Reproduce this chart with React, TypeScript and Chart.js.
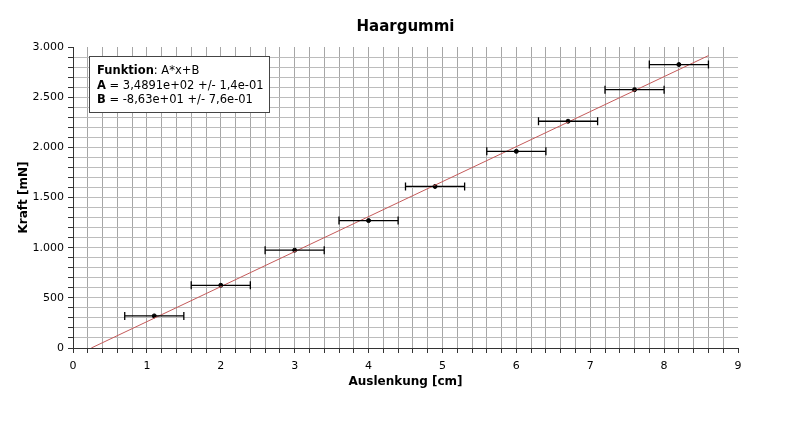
import { useEffect, useRef } from 'react'
import { Chart, registerables } from 'chart.js'
Chart.register(...registerables)

// measured points (Auslenkung in cm, Kraft in mN)
const xValues = [1.1, 2.0, 3.0, 4.0, 4.9, 6.0, 6.7, 7.6, 8.2]
const yValues = [320, 625, 975, 1270, 1610, 1960, 2260, 2575, 2825]
const xErrors = [0.4, 0.4, 0.4, 0.4, 0.4, 0.4, 0.4, 0.4, 0.4]
// fit y = A*x + B
const fitA = 348.91
const fitB = -86.3
const fitEnd = 8.6
const fitLines = [
  [['Funktion', true], [': A*x+B', false]],
  [['A', true], [' = 3,4891e+02 +/- 1,4e-01', false]],
  [['B', true], [' = -8,63e+01 +/- 7,6e-01', false]],
]

const FONT = '"DejaVu Sans", sans-serif'

const isMult = (v: number, m: number) => Math.abs(v / m - Math.round(v / m)) < 1e-6
const fmtThousands = (v: number) => {
  const n = Math.round(v)
  if (n < 1000) return String(n)
  return Math.floor(n / 1000) + '.' + String(n % 1000).padStart(3, '0')
}

const extras = {
  id: 'extras',
  afterDatasetsDraw(chart: any) {
    const { ctx, scales: { x, y }, chartArea } = chart
    ctx.save()
    // error bars
    ctx.strokeStyle = '#000'
    ctx.lineWidth = 1.3
    xValues.forEach((xv, i) => {
      const py = y.getPixelForValue(yValues[i])
      const x0 = x.getPixelForValue(xv - xErrors[i])
      const x1 = x.getPixelForValue(xv + xErrors[i])
      ctx.beginPath()
      ctx.moveTo(x0, py); ctx.lineTo(x1, py)
      ctx.moveTo(x0, py - 4); ctx.lineTo(x0, py + 4)
      ctx.moveTo(x1, py - 4); ctx.lineTo(x1, py + 4)
      ctx.stroke()
    })
    // title
    ctx.fillStyle = '#000'
    ctx.font = `bold 15px ${FONT}`
    ctx.textAlign = 'center'
    ctx.textBaseline = 'alphabetic'
    ctx.fillText('Haargummi', (chartArea.left + chartArea.right) / 2, 31)
    // fit box
    const bx = 89.5, by = 56.5, bw = 180, bh = 56
    ctx.fillStyle = '#fff'
    ctx.fillRect(bx, by, bw, bh)
    ctx.strokeStyle = '#444'
    ctx.lineWidth = 1
    ctx.strokeRect(bx, by, bw, bh)
    ctx.textAlign = 'left'
    ctx.textBaseline = 'middle'
    ctx.fillStyle = '#000'
    fitLines.forEach((parts, i) => {
      let tx = 97
      const ty = 71 + i * 14.7
      parts.forEach(([text, bold]) => {
        ctx.font = `${bold ? 'bold ' : ''}11.5px ${FONT}`
        ctx.fillText(text as string, tx, ty)
        tx += ctx.measureText(text as string).width
      })
    })
    ctx.restore()
  },
}

export default function App() {
  const ref = useRef<HTMLCanvasElement | null>(null)
  useEffect(() => {
    document.body.style.margin = '0'
    if (!ref.current) return
    const chart = new Chart(ref.current, {
      type: 'scatter',
      data: {
        datasets: [
          {
            type: 'line',
            data: [
              { x: -fitB / fitA, y: 0 },
              { x: fitEnd, y: fitA * fitEnd + fitB },
            ],
            borderColor: '#c45a5a',
            borderWidth: 1,
            pointRadius: 0,
          },
          {
            data: xValues.map((v, i) => ({ x: v, y: yValues[i] })),
            backgroundColor: '#000',
            borderColor: '#000',
            pointRadius: 2,
          },
        ],
      },
      options: {
        animation: false,
        responsive: false,
        layout: { padding: { top: 47, right: 62, left: 0, bottom: 0 } },
        plugins: { legend: { display: false }, tooltip: { enabled: false }, title: { display: false } },
        scales: {
          x: {
            type: 'linear',
            min: 0,
            max: 9,
            afterFit: (s: any) => { s.height = 73 },
            ticks: {
              stepSize: 0.2,
              autoSkip: false,
              maxRotation: 0,
              padding: 7,
              color: '#000',
              font: { family: FONT, size: 11 },
              callback: (v: any) => (isMult(v, 1) ? String(Math.round(v)) : ''),
            },
            grid: {
              tickLength: 5,
              color: (c: any) => (c.tick && (c.tick.value <= 0 || c.tick.value >= 9) ? 'rgba(0,0,0,0)' : '#a6a6a6'),
              tickColor: '#333',
            },
            border: { color: '#333' },
            title: {
              display: true,
              text: 'Auslenkung [cm]',
              color: '#000',
              font: { family: FONT, size: 12, weight: 'bold' },
              padding: { top: 0, bottom: 32 },
            },
          },
          y: {
            type: 'linear',
            min: 0,
            max: 3000,
            afterFit: (s: any) => { s.width = 73 },
            ticks: {
              stepSize: 100,
              autoSkip: false,
              padding: 4,
              color: '#000',
              font: { family: FONT, size: 11 },
              callback: (v: any) => (isMult(v, 500) ? fmtThousands(v) : ''),
            },
            grid: {
              tickLength: 5,
              color: (c: any) => (c.tick && (c.tick.value <= 0 || c.tick.value >= 3000) ? 'rgba(0,0,0,0)' : '#bcbcbc'),
              tickColor: '#333',
            },
            border: { color: '#333' },
            title: {
              display: true,
              text: 'Kraft [mN]',
              color: '#000',
              font: { family: FONT, size: 12, weight: 'bold' },
              padding: { top: 17, bottom: 0 },
            },
          },
        },
      },
      plugins: [extras],
    })
    return () => chart.destroy()
  }, [])
  return (
    <div style={{ width: 800, height: 421, background: '#fff' }}>
      <canvas ref={ref} width={800} height={421} />
    </div>
  )
}
